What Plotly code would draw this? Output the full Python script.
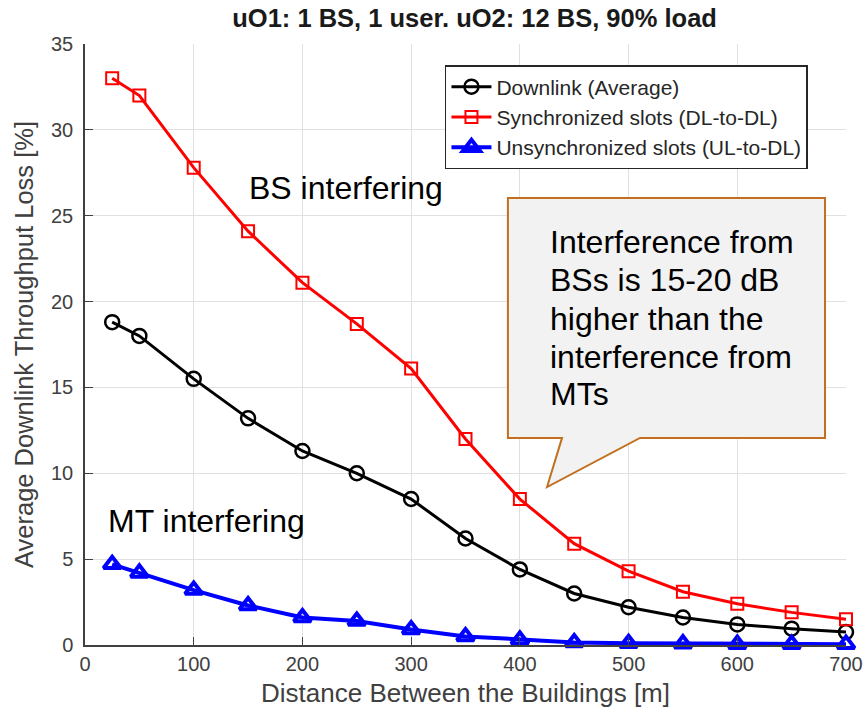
import plotly.graph_objects as go

distance = [25, 50, 100, 150, 200, 250, 300, 350, 400, 450, 500, 550, 600, 650, 700]
downlink_avg = [18.8, 18.0, 15.5, 13.2, 11.3, 10.0, 8.5, 6.2, 4.4, 3.0, 2.2, 1.6, 1.2, 0.95, 0.75]
sync_slots = [33.0, 32.0, 27.8, 24.1, 21.1, 18.7, 16.1, 12.0, 8.5, 5.9, 4.3, 3.1, 2.4, 1.9, 1.5]
unsync_slots = [4.7, 4.2, 3.2, 2.3, 1.6, 1.4, 0.9, 0.5, 0.3, 0.15, 0.1, 0.08, 0.05, 0.05, 0.05]

series_names = ["Downlink (Average)", "Synchronized slots (DL-to-DL)", "Unsynchronized slots (UL-to-DL)"]
title_text = "uO1: 1 BS, 1 user. uO2: 12 BS, 90% load"
x_title = "Distance Between the Buildings [m]"
y_title = "Average Downlink Throughput Loss [%]"
callout_lines = ["Interference from", "BSs is 15-20 dB", "higher than the",
                 "interference from", "MTs"]

FONT = "Arial, Liberation Sans, Helvetica, sans-serif"
AX = "#404040"

fig = go.Figure()
fig.add_trace(go.Scatter(
    x=distance, y=downlink_avg, name=series_names[0], mode="lines+markers",
    line=dict(color="black", width=3),
    marker=dict(symbol="circle-open", size=14, color="black", line=dict(width=2.5)),
    cliponaxis=False))
fig.add_trace(go.Scatter(
    x=distance, y=sync_slots, name=series_names[1], mode="lines+markers",
    line=dict(color="red", width=3),
    marker=dict(symbol="square-open", size=12, color="red", line=dict(width=2)),
    cliponaxis=False))
fig.add_trace(go.Scatter(
    x=distance, y=unsync_slots, name=series_names[2], mode="lines+markers",
    line=dict(color="blue", width=4),
    marker=dict(symbol="triangle-up-open", size=15, color="blue", line=dict(width=4)),
    cliponaxis=False))

# callout (speech bubble) in data coordinates
bubble = ("M 389 26.03 L 680.7 26.03 L 680.7 12.06 L 510.5 12.06 "
          "L 425 9.2 L 438.8 12.06 L 389 12.06 Z")
fig.add_shape(type="path", path=bubble, xref="x", yref="y",
              fillcolor="#f2f2f2", line=dict(color="#c0701e", width=2), layer="above")

line_y = [23.47, 21.26, 18.98, 16.80, 14.62]
for txt, yy in zip(callout_lines, line_y):
    fig.add_annotation(x=425.5, y=yy, xref="x", yref="y", text=txt,
                       showarrow=False, xanchor="left", yanchor="middle", align="left",
                       font=dict(family=FONT, size=32, color="black"))
fig.add_annotation(x=240, y=26.6, xref="x", yref="y", text="BS interfering",
                   showarrow=False, xanchor="center", yanchor="middle",
                   font=dict(family=FONT, size=32, color="black"))
fig.add_annotation(x=112, y=7.25, xref="x", yref="y", text="MT interfering",
                   showarrow=False, xanchor="center", yanchor="middle",
                   font=dict(family=FONT, size=32, color="black"))

fig.update_layout(
    width=866, height=721,
    margin=dict(l=85, r=20, t=44, b=76, autoexpand=False),
    paper_bgcolor="white", plot_bgcolor="white",
    font=dict(family=FONT, color=AX),
    title=dict(text="<b>" + title_text + "</b>", x=0.548, y=0.975, xref="container",
               yref="container", xanchor="center", yanchor="middle",
               font=dict(family=FONT, size=25.5, color="#1a1a1a")),
    legend=dict(x=0.473, y=0.965, xanchor="left", yanchor="top",
                bgcolor="white", bordercolor="#262626", borderwidth=1.5,
                font=dict(family=FONT, size=21, color="#262626"),
                tracegroupgap=2, itemwidth=40),
    showlegend=True,
)
fig.update_xaxes(range=[0, 700], dtick=100, tick0=0, showgrid=True, gridcolor="#e0e0e0",
                 gridwidth=1, showline=True, linecolor=AX, linewidth=1.5, mirror=False,
                 ticks="inside", ticklen=8, tickcolor=AX, zeroline=False,
                 tickfont=dict(family=FONT, size=20, color=AX),
                 title=dict(text=x_title, font=dict(family=FONT, size=26, color=AX), standoff=10))
fig.update_yaxes(range=[0, 35], dtick=5, tick0=0, showgrid=True, gridcolor="#e0e0e0",
                 gridwidth=1, showline=True, linecolor=AX, linewidth=1.5, mirror=False,
                 ticks="inside", ticklen=8, tickcolor=AX, zeroline=False,
                 ticklabelstandoff=6,
                 tickfont=dict(family=FONT, size=20, color=AX),
                 title=dict(text=y_title, font=dict(family=FONT, size=25.5, color=AX), standoff=10))

fig.write_html("out.html")
